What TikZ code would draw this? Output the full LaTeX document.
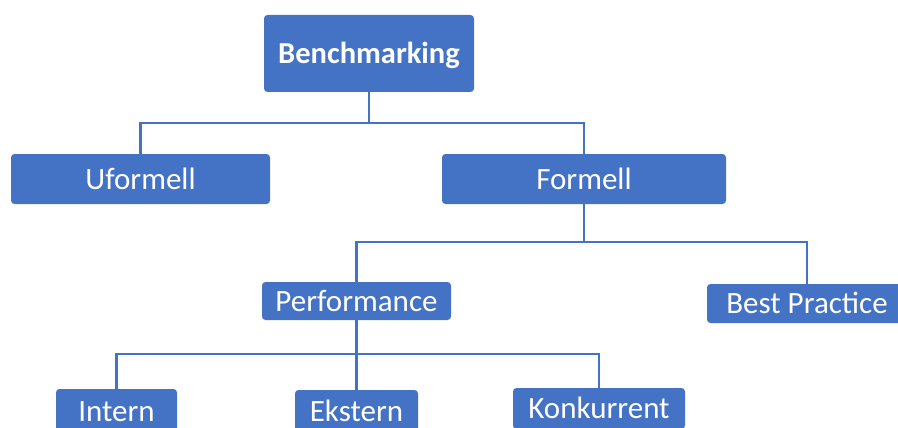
\documentclass[tikz,border=0pt]{standalone}
\usepackage{fontspec}
\setmainfont{Carlito}
\definecolor{offblue}{HTML}{4472C4}
\begin{document}
\begin{tikzpicture}[x=1pt,y=-1pt,
  box/.style={fill=offblue,rounded corners=3.5pt,text=white,inner sep=0pt,
    text height=20pt,text depth=0pt,align=center,
    font=\fontsize{31}{37}\selectfont},
  conn/.style={draw=offblue,line width=2.2pt}]
\useasboundingbox (0,0) rectangle (898,428);
\clip (0,0) rectangle (898,428);
\node[box,minimum width=210pt,minimum height=77pt,text height=19.6pt,font=\fontsize{30.5}{36}\selectfont\bfseries] (bench) at (369,53.5) {Benchmarking};
\node[box,minimum width=259pt,minimum height=50pt] (ufor) at (140.5,179) {Uformell};
\node[box,minimum width=284pt,minimum height=50pt] (form) at (584,179) {Formell};
\node[box,minimum width=189pt,minimum height=38pt] (perf) at (356.5,301) {Performance};
\node[box,minimum width=200pt,minimum height=39pt] (best) at (807,303.5) {Best Practice};
\node[box,minimum width=121pt,minimum height=44pt] (intern) at (116.5,411) {Intern};
\node[box,minimum width=123pt,minimum height=43pt] (ekst) at (356.5,411.5) {Ekstern};
\node[box,minimum width=172pt,minimum height=41pt] (konk) at (599,408.5) {Konkurrent};
\coordinate (j1) at (369,123);
\coordinate (j2) at (584,242);
\coordinate (j3) at (356.5,354);
\draw[conn] (bench.south) -- (j1);
\draw[conn] (ufor.north) |- (j1) -| (form.north);
\draw[conn] (form.south) -- (j2);
\draw[conn] (perf.north) |- (j2) -| (best.north);
\draw[conn] (perf.south) -- (ekst.north);
\draw[conn] (intern.north) |- (j3) -| (konk.north);
\end{tikzpicture}
\end{document}
